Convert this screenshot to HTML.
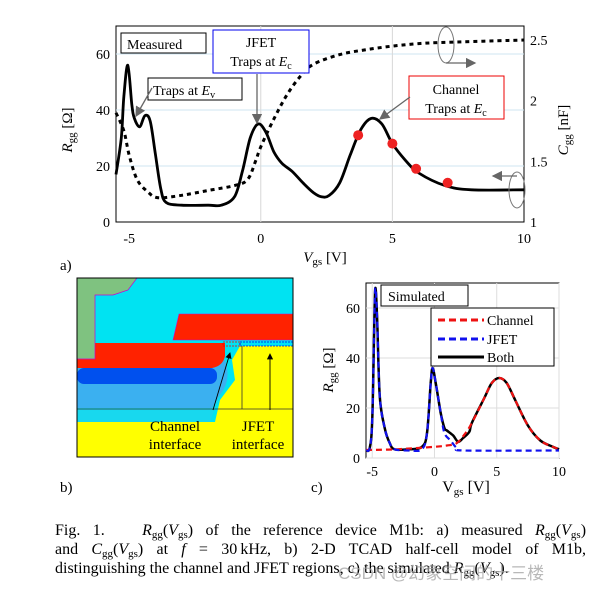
<!DOCTYPE html>
<html><head><meta charset="utf-8">
<style>
html,body{margin:0;padding:0;background:#fff;}
body{position:relative;width:604px;height:590px;overflow:hidden;}
svg{display:block;font-family:"Liberation Serif",serif;}
#cap{position:absolute;left:55px;top:521px;width:531px;font-family:"Liberation Serif",serif;font-size:16px;line-height:19px;color:#000;}
#cap div{white-space:nowrap;height:19px;}
#cap .j{text-align:justify;text-align-last:justify;white-space:normal;}
#cap i{font-style:italic;}
#cap sub{font-size:11px;vertical-align:-3px;line-height:0;}
#wm{position:absolute;left:338px;top:559px;font-family:"Liberation Sans","Noto Sans CJK SC",sans-serif;font-size:17px;color:rgba(160,160,160,0.75);white-space:nowrap;}
</style></head><body>
<svg id="fig" width="604" height="590" viewBox="0 0 604 590" xmlns="http://www.w3.org/2000/svg">
<defs>
<marker id="ag" markerWidth="8" markerHeight="8" refX="7" refY="4" orient="auto"><path d="M0,0 L8,4 L0,8 z" fill="#666"/></marker>
<marker id="ak" markerWidth="7" markerHeight="7" refX="6" refY="3.5" orient="auto"><path d="M0,0 L7,3.5 L0,7 z" fill="#000"/></marker>
</defs>

<!-- ===== Panel a ===== -->
<g id="pa">
<rect x="116" y="26" width="408" height="196" fill="#fff" stroke="#000" stroke-width="1"/>
<g id="pa-grid"></g>
<g id="pa-ticks"></g>
<path id="pa-cgg" fill="none" stroke="#000" stroke-width="3" stroke-dasharray="4,4"/>
<path id="pa-rgg" fill="none" stroke="#000" stroke-width="2.8" stroke-linejoin="round"/>
<g id="pa-dots"></g>
<text x="72" y="130" font-size="15" font-style="italic" transform="rotate(-90 72 130)" text-anchor="middle">R<tspan font-size="11" font-style="normal" dy="3">gg</tspan><tspan font-style="normal" dy="-3"> [Ω]</tspan></text>
<text x="568" y="130" font-size="15" font-style="italic" transform="rotate(-90 568 130)" text-anchor="middle">C<tspan font-size="11" font-style="normal" dy="3">gg</tspan><tspan font-style="normal" dy="-3"> [nF]</tspan></text>
<text x="325" y="262" font-size="15" text-anchor="middle"><tspan font-style="italic">V</tspan><tspan font-size="11" dy="3">gs</tspan><tspan dy="-3"> [V]</tspan></text>
<text x="60" y="270" font-size="15">a)</text>
<rect x="121" y="33" width="85" height="20" fill="#fff" stroke="#000"/>
<text x="127" y="49" font-size="14">Measured</text>
<rect x="213" y="30" width="96" height="43" fill="#fff" stroke="#0000ee"/>
<text x="261" y="47" font-size="14" text-anchor="middle">JFET</text>
<text x="261" y="66" font-size="14" text-anchor="middle">Traps at <tspan font-style="italic">E</tspan><tspan font-size="10" dy="3">c</tspan></text>
<rect x="148" y="78" width="94" height="22" fill="#fff" stroke="#000"/>
<text x="153" y="95" font-size="14">Traps at <tspan font-style="italic">E</tspan><tspan font-size="10" dy="3">v</tspan></text>
<rect x="409" y="76" width="95" height="43" fill="#fff" stroke="#ee0000"/>
<text x="456" y="94" font-size="14" text-anchor="middle">Channel</text>
<text x="456" y="113" font-size="14" text-anchor="middle">Traps at <tspan font-style="italic">E</tspan><tspan font-size="10" dy="3">c</tspan></text>
<line x1="152" y1="88" x2="136" y2="116" stroke="#666" stroke-width="1.3" marker-end="url(#ag)"/>
<line x1="257" y1="74" x2="257" y2="123" stroke="#666" stroke-width="1.3" marker-end="url(#ag)"/>
<line x1="410" y1="97" x2="380" y2="119" stroke="#666" stroke-width="1.3" marker-end="url(#ag)"/>
<ellipse cx="446" cy="45" rx="8" ry="18" fill="none" stroke="#777"/>
<line x1="446" y1="63" x2="475" y2="63" stroke="#666" stroke-width="1.3" marker-end="url(#ag)"/>
<ellipse cx="517" cy="190" rx="8" ry="18" fill="none" stroke="#777"/>
<line x1="517" y1="176" x2="493" y2="176" stroke="#666" stroke-width="1.3" marker-end="url(#ag)"/>
</g>

<!-- ===== Panel b ===== -->
<g id="pb">
<rect x="77" y="278" width="216" height="179" fill="#00e3f2"/>
<rect x="77" y="422" width="216" height="35" fill="#ffff00"/>
<path d="M240,346 L293,346 L293,422 L215,422 L220,400 L235,380 L232,360 Z" fill="#ffff00"/>
<path d="M77,400 L215,400 L220,395 L210,422 L77,422 Z" fill="#18d8ee"/>
<path d="M77,360 L225,360 Q232,380 220,395 L212,408 L77,408 Z" fill="#3bb0f0"/>
<rect x="77" y="368" width="140" height="16" rx="7" fill="#0050ee"/>
<path d="M77,343 L225,343 L225,356 Q223,366 212,368 L77,368 Z" fill="#ff2200"/>
<path d="M179,314 L293,314 L293,340 L173,340 Z" fill="#ff2200" stroke="#cc00cc" stroke-width="0.6"/>
<path d="M77,278 L137,278 L128,290 L113,295 L95,295 L95,359 L77,359 Z" fill="#7fc280" stroke="#cc00cc" stroke-width="0.7"/>
<rect x="223" y="342" width="17" height="4" fill="none" stroke="#ee0000" stroke-width="0.8" stroke-dasharray="2,1"/>
<rect x="240" y="342" width="53" height="4" fill="none" stroke="#0000ee" stroke-width="0.8" stroke-dasharray="2,1"/>
<line x1="77" y1="409" x2="293" y2="409" stroke="#333" stroke-width="0.8"/>
<line x1="242" y1="346" x2="242" y2="409" stroke="#333" stroke-width="0.8"/>
<line x1="213" y1="410" x2="230" y2="353" stroke="#000" stroke-width="0.9" marker-end="url(#ak)"/>
<line x1="270" y1="410" x2="270" y2="354" stroke="#000" stroke-width="0.9" marker-end="url(#ak)"/>
<text x="175" y="431" font-size="15" text-anchor="middle">Channel</text>
<text x="175" y="449" font-size="15" text-anchor="middle">interface</text>
<text x="258" y="431" font-size="15" text-anchor="middle">JFET</text>
<text x="258" y="449" font-size="15" text-anchor="middle">interface</text>
<rect x="77" y="278" width="216" height="179" fill="none" stroke="#000"/>
<text x="60" y="492" font-size="15">b)</text>
</g>

<!-- ===== Panel c ===== -->
<g id="pc">
<rect x="366" y="283" width="193" height="175" fill="#fff" stroke="#000"/>
<g id="pc-grid"></g>
<g id="pc-ticks"></g>
<path id="pc-both" fill="none" stroke="#000" stroke-width="2.5" stroke-linejoin="round"/>
<path id="pc-chan" fill="none" stroke="#ee1111" stroke-width="2.2" stroke-dasharray="6,4"/>
<path id="pc-jfet" fill="none" stroke="#1111ee" stroke-width="2.2" stroke-dasharray="6,4"/>
<text x="333" y="370" font-size="15" font-style="italic" transform="rotate(-90 333 370)" text-anchor="middle">R<tspan font-size="11" font-style="normal" dy="3">gg</tspan><tspan font-style="normal" dy="-3"> [Ω]</tspan></text>
<text x="466" y="492" font-size="16" text-anchor="middle">V<tspan font-size="11" dy="3">gs</tspan><tspan dy="-3"> [V]</tspan></text>
<text x="311" y="492" font-size="15">c)</text>
<rect x="381" y="285" width="87" height="21" fill="#fff" stroke="#000"/>
<text x="388" y="301" font-size="14">Simulated</text>
<g>
<rect x="431" y="308" width="123" height="58" fill="#fff" stroke="#000"/>
<line x1="438" y1="320" x2="484" y2="320" stroke="#ee1111" stroke-width="3" stroke-dasharray="7,4"/>
<text x="487" y="325" font-size="14">Channel</text>
<line x1="438" y1="339" x2="484" y2="339" stroke="#1111ee" stroke-width="3" stroke-dasharray="7,4"/>
<text x="487" y="344" font-size="14">JFET</text>
<line x1="438" y1="357" x2="484" y2="357" stroke="#000" stroke-width="3"/>
<text x="487" y="362" font-size="14">Both</text>
</g>
</g>
</svg>

<div id="cap">
<div class="j">Fig. 1.&nbsp;&nbsp; <i>R</i><sub>gg</sub>(<i>V</i><sub>gs</sub>) of the reference device M1b: a) measured <i>R</i><sub>gg</sub>(<i>V</i><sub>gs</sub>)</div>
<div class="j">and <i>C</i><sub>gg</sub>(<i>V</i><sub>gs</sub>) at <i>f</i> = 30&thinsp;kHz, b) 2-D TCAD half-cell model of M1b,</div>
<div>distinguishing the channel and JFET regions, c) the simulated <i>R</i><sub>gg</sub>(<i>V</i><sub>gs</sub>).</div>
</div>
<div id="wm">CSDN @幻象空间的十三楼</div>

<script>
// ---- Panel a data ----
const aXTicks = [-5, 0, 5, 10];
const aYTicks = [0, 20, 40, 60];
const aY2Ticks = [1, 1.5, 2, 2.5];
const rggV = [-5.5,-5.3,-5.2,-5.05,-4.9,-4.8,-4.6,-4.4,-4.2,-4,-3.8,-3.6,-3,-2,-1.5,-1,-0.7,-0.4,-0.1,0.2,0.5,0.8,1.2,1.6,2.0,2.3,2.6,3,3.4,3.8,4.2,4.6,5.0,5.5,6,7,8,10];
const rggVal = [17,30,45,56,42,37,34,38,36,24,12,7,6,6,6,9,18,30,35,32,25,21,18,14,10.5,9,9.5,14,24,33,37,35,28,22,17.5,13,11.5,11.5];
const cggV = [-5.5,-5.2,-5,-4.7,-4.3,-3.9,-3,-2,-1,-0.5,-0.2,0,0.5,1,1.5,2,3,4,5,6,7,10];
const cggVal = [1.9,1.75,1.55,1.35,1.25,1.2,1.22,1.26,1.3,1.35,1.5,1.62,1.85,2.05,2.2,2.3,2.38,2.42,2.45,2.47,2.48,2.5];
const dotV = [3.7, 5, 5.9, 7.1];
const dotVal = [31, 28, 19, 14];
// ---- Panel c data ----
const cXTicks = [-5, 0, 5, 10];
const cYTicks = [0, 20, 40, 60];
const chanV = [-5.5,-3,0,1,1.8,2.5,3,4,4.6,5.2,5.8,6.5,7.5,8.5,9.5,10];
const chanVal = [3.2,3.5,4.5,5,6,10,14,24,30,32,30,23,13,7,4.5,3.5];
const jfetV = [-5.5,-5.2,-5,-4.85,-4.75,-4.6,-4.4,-4,-3.6,-3.2,-2,-1,-0.6,-0.3,-0.15,0.1,0.5,0.8,1.3,1.8,2.5,10];
const jfetVal = [3,4,15,50,68,55,25,12,6,3.5,3,3.5,10,30,36,30,18,10,7,4,3,3];
const bothV = [-5.5,-5.2,-5,-4.85,-4.75,-4.6,-4.4,-4,-3.6,-3.2,-2,-1,-0.6,-0.3,-0.15,0.1,0.5,0.8,1,1.5,1.9,2.3,2.8,3,4,4.6,5.2,5.8,6.5,7.5,8.5,9.5,10];
const bothVal = [3,4,15,50,68,55,25,12,6,3.5,3.5,4.5,10,30,36,30,18,12,11,9,6.5,8,10.5,14,24,30,32,30,23,13,7,4.5,3.5];

const NS = "http://www.w3.org/2000/svg";
function mk(tag, attrs, parent) { const e = document.createElementNS(NS, tag); for (const k in attrs) e.setAttribute(k, attrs[k]); parent.appendChild(e); return e; }

const ax = v => 116 + (v + 5.5) * 408 / 15.5;
const ay = r => 222 - r * 196 / 70;
const ay2 = c => 222 - (c - 1) * 182 / 1.5;
const cx = v => 366 + (v + 5.5) * 193 / 15.5;
const cy = r => 458 - r * 175 / 70;

function pathD(xs, ys, fx, fy) {
  const p = xs.map((v, i) => [fx(v), fy(ys[i])]);
  let d = 'M' + p[0][0].toFixed(1) + ',' + p[0][1].toFixed(1);
  for (let i = 0; i < p.length - 1; i++) {
    const p0 = p[i - 1] || p[i], p1 = p[i], p2 = p[i + 1], p3 = p[i + 2] || p2;
    const t = 0.5 / 3;
    const c1 = [p1[0] + (p2[0] - p0[0]) * t, p1[1] + (p2[1] - p0[1]) * t];
    const c2 = [p2[0] - (p3[0] - p1[0]) * t, p2[1] - (p3[1] - p1[1]) * t];
    d += ' C' + c1[0].toFixed(1) + ',' + c1[1].toFixed(1) + ' ' + c2[0].toFixed(1) + ',' + c2[1].toFixed(1) + ' ' + p2[0].toFixed(1) + ',' + p2[1].toFixed(1);
  }
  return d;
}

const pg = document.getElementById('pa-grid'), pt = document.getElementById('pa-ticks');
aYTicks.forEach(t => {
  if (t > 0) { const g = mk('line', {x1:116, x2:524, y1:ay(t), y2:ay(t), stroke:'#cfe6f2', 'stroke-width':1}, pg);
  
   }
  const l = mk('text', {x:110, y:ay(t)+5, 'font-size':14, 'text-anchor':'end'}, pt); l.textContent = t;
  
  
});
aXTicks.forEach(t => {
  if (t === 0 || t === 5) { const g = mk('line', {x1:ax(t), x2:ax(t), y1:26, y2:222, stroke:'#d8d8d8', 'stroke-width':1}, pg);
  
   }
  const l = mk('text', {x:ax(t), y:243, 'font-size':14, 'text-anchor':'middle'}, pt); l.textContent = t;
  
  
});
aY2Ticks.forEach(t => {
  const l = mk('text', {x:530, y:ay2(t)+5, 'font-size':14}, pt); l.textContent = t;
  
  
});
document.getElementById('pa-rgg').setAttribute('d', pathD(rggV, rggVal, ax, ay));
document.getElementById('pa-cgg').setAttribute('d', pathD(cggV, cggVal, ax, ay2));
const pd = document.getElementById('pa-dots');
dotV.forEach((v, i) => {
  const c = mk('circle', {cx:ax(v), cy:ay(dotVal[i]), r:5, fill:'#ee2222'}, pd);
  
  
});

const cg = document.getElementById('pc-grid'), ct = document.getElementById('pc-ticks');
cYTicks.forEach(t => {
  const g = mk('line', {x1:366, x2:559, y1:cy(t), y2:cy(t), stroke:'#dddddd', 'stroke-width':1}, cg);
  
  
  const l = mk('text', {x:360, y:cy(t)+5, 'font-size':14, 'text-anchor':'end'}, ct); l.textContent = t;
  
  
});
cXTicks.forEach(t => {
  const g = mk('line', {x1:cx(t), x2:cx(t), y1:283, y2:458, stroke:'#dddddd', 'stroke-width':1}, cg);
  
  
  const l = mk('text', {x:cx(t), y:476, 'font-size':14, 'text-anchor':'middle'}, ct); l.textContent = t;
  
  
});
document.getElementById('pc-chan').setAttribute('d', pathD(chanV, chanVal, cx, cy));
document.getElementById('pc-jfet').setAttribute('d', pathD(jfetV, jfetVal, cx, cy));
document.getElementById('pc-both').setAttribute('d', pathD(bothV, bothVal, cx, cy));
</script>
</body></html>
